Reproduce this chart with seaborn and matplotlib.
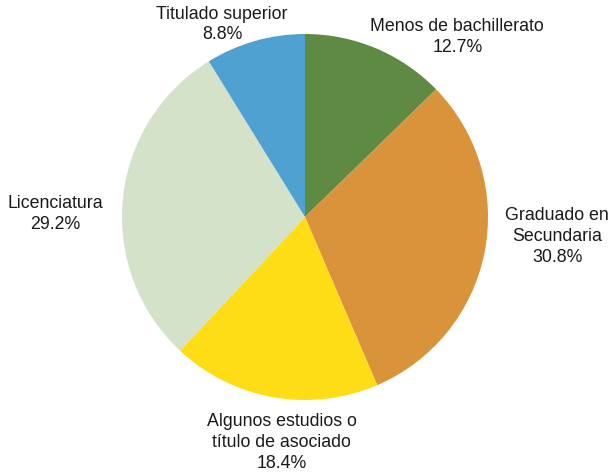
import numpy as np
import matplotlib
matplotlib.use("Agg")
import matplotlib.pyplot as plt
import seaborn as sns

categories = ["Menos de bachillerato", "Graduado en\nSecundaria",
              "Algunos estudios o\ntítulo de asociado", "Licenciatura", "Titulado superior"]
values = [12.7, 30.8, 18.4, 29.2, 8.8]
pct_labels = ["12.7%", "30.8%", "18.4%", "29.2%", "8.8%"]
colors = ["#5e8a43", "#d9933a", "#fedd17", "#d4e2c9", "#4fa1d2"]

sns.set_theme(style="white")
plt.rcParams["font.family"] = ["Liberation Sans", "DejaVu Sans"]

W, H = 612, 472
fig = plt.figure(figsize=(W / 100, H / 100), dpi=100)
cx, cy, R = 305, 217, 183
ax = fig.add_axes([(cx - R) / W, (H - cy - R) / H, 2 * R / W, 2 * R / H])

wedges, _ = ax.pie(values, colors=colors, startangle=90, counterclock=False,
                   radius=1.0, wedgeprops=dict(linewidth=0))
ax.set_xlim(-1, 1)
ax.set_ylim(-1, 1)
ax.set_aspect("equal")
ax.axis("off")

# label placement derived from wedge mid-angles, with small nudges (pixels, +dy = down)
nudges = [(-10, 18), (10, -18), (10, 5), (-9, 16), (-30, 13)]
for w, cat, pct, (dx, dy) in zip(wedges, categories, pct_labels, nudges):
    ang = np.deg2rad((w.theta1 + w.theta2) / 2)
    c, s = np.cos(ang), np.sin(ang)
    r = 1.06
    x, y = r * c + dx / R, r * s - dy / R
    ha = "left" if c > 0.3 else ("right" if c < -0.3 else "center")
    va = "bottom" if s > 0.5 else ("top" if s < -0.5 else "center")
    ax.text(x, y, f"{cat}\n{pct}", ha=ha, va=va, multialignment="center",
            fontsize=12.8, color="#1a1a1a", linespacing=1.3, clip_on=False)

fig.savefig("out.png", dpi=100)
